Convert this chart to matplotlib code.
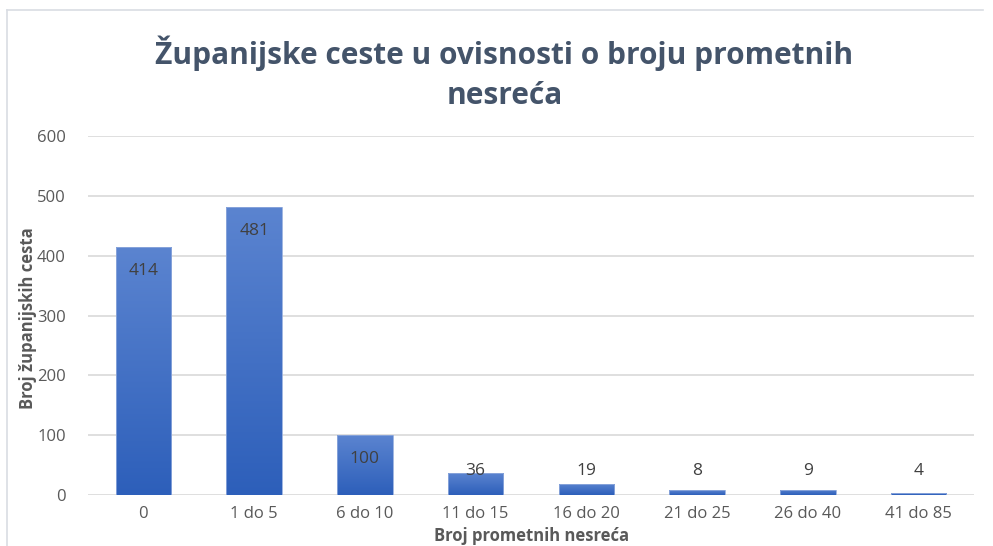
import matplotlib
matplotlib.use("Agg")
import matplotlib.pyplot as plt
import numpy as np
from matplotlib.colors import LinearSegmentedColormap

categories = ["0", "1 do 5", "6 do 10", "11 do 15", "16 do 20", "21 do 25", "26 do 40", "41 do 85"]
values = [414, 481, 100, 36, 19, 8, 9, 4]
yticks = [0, 100, 200, 300, 400, 500, 600]

title = "Županijske ceste u ovisnosti o broju prometnih\nnesreća"
xlabel = "Broj prometnih nesreća"
ylabel = "Broj županijskih cesta"

plt.rcParams['font.family'] = ['Open Sans', 'DejaVu Sans']

W, H = 993, 546
fig = plt.figure(figsize=(W / 100, H / 100), dpi=100)
fig.patch.set_facecolor("white")

# outer frame lines
fig.add_artist(plt.Line2D([7 / W, 7 / W], [0, 1 - 10 / H], color="#d9dde3", lw=1.2, transform=fig.transFigure))
fig.add_artist(plt.Line2D([7 / W, 983 / W], [1 - 10 / H, 1 - 10 / H], color="#d9dde3", lw=1.2, transform=fig.transFigure))

left, right, top, bottom = 88, 974, 136, 495
ax = fig.add_axes([left / W, 1 - bottom / H, (right - left) / W, (bottom - top) / H])
ax.set_xlim(-0.5, len(categories) - 0.5)
ax.set_ylim(0, 600)

for s in ax.spines.values():
    s.set_visible(False)
ax.set_yticks(yticks)
ax.yaxis.grid(True, color="#d9d9d9", lw=1.2)
ax.set_axisbelow(True)
ax.tick_params(axis="both", length=0, colors="#595959", labelsize=12)
ax.tick_params(axis="y", pad=16)
ax.tick_params(axis="x", pad=8)
ax.set_xticks(range(len(categories)))
ax.set_xticklabels(categories)

cmap = LinearSegmentedColormap.from_list("g", ["#2d5fba", "#5b84d0"])
grad = np.linspace(0, 1, 256).reshape(-1, 1)
bars = ax.bar(range(len(categories)), values, width=0.5, color="none", edgecolor="#8fa9dc", lw=0.6, zorder=3)
for b, v in zip(bars, values):
    x0 = b.get_x()
    im = ax.imshow(grad, cmap=cmap, aspect="auto", origin="lower",
                   extent=[x0, x0 + b.get_width(), 0, v], zorder=2)
    im.set_clip_path(b)

for i, v in enumerate(values):
    ty = max(v - 40, 40)
    ax.text(i, ty, str(v), ha="center", va="center", fontsize=12.5, color="#404040", zorder=4)

fig.text(0.508, 1 - 73 / H, title, ha="center", va="center", fontsize=21.5, fontweight="bold",
         color="#44546a", linespacing=1.45)
fig.text(28 / W, 1 - 318 / H, ylabel, rotation=90, ha="center", va="center", fontsize=12,
         fontweight="bold", color="#595959")
fig.text(532 / W, 1 - 536 / H, xlabel, ha="center", va="center", fontsize=12,
         fontweight="bold", color="#595959")

fig.savefig("out.png", dpi=100)
